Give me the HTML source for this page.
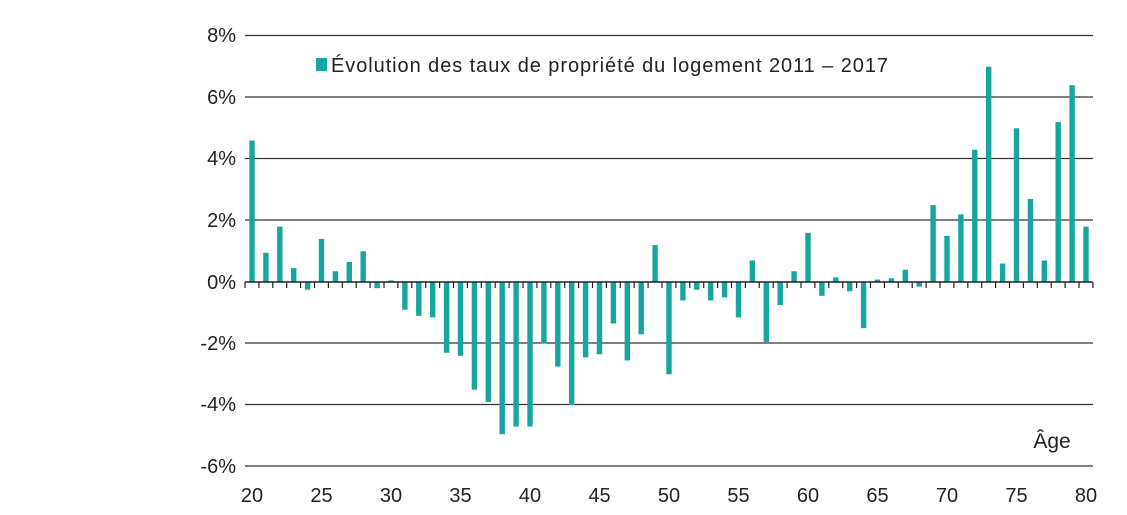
<!DOCTYPE html>
<html><head><meta charset="utf-8"><style>body{margin:0;background:#fff}svg{display:block}text{font-family:"Liberation Sans",sans-serif;fill:#222}</style></head><body>
<svg width="1127" height="515" xmlns="http://www.w3.org/2000/svg">
<g stroke="#333" stroke-width="1.3">
<line x1="245" x2="1093" y1="35.5" y2="35.5"/><line x1="245" x2="1093" y1="97" y2="97"/><line x1="245" x2="1093" y1="158.5" y2="158.5"/><line x1="245" x2="1093" y1="220" y2="220"/><line x1="245" x2="1093" y1="343" y2="343"/><line x1="245" x2="1093" y1="404.5" y2="404.5"/><line x1="245" x2="1093" y1="466" y2="466"/>
</g>
<g font-size="20" text-anchor="end">
<text x="236" y="42">8%</text><text x="236" y="104">6%</text><text x="236" y="165">4%</text><text x="236" y="227">2%</text><text x="236" y="289">0%</text><text x="236" y="350">-2%</text><text x="236" y="411">-4%</text><text x="236" y="473">-6%</text>
</g>
<g font-size="20" text-anchor="middle">
<text x="252" y="502">20</text><text x="321.5" y="502">25</text><text x="391" y="502">30</text><text x="460.5" y="502">35</text><text x="530" y="502">40</text><text x="599.5" y="502">45</text><text x="669" y="502">50</text><text x="738.5" y="502">55</text><text x="808" y="502">60</text><text x="877.5" y="502">65</text><text x="947" y="502">70</text><text x="1016.5" y="502">75</text><text x="1086" y="502">80</text>
</g>
<text x="1052" y="448" font-size="21" text-anchor="middle">Âge</text>
<rect x="316" y="58" width="11" height="13" fill="#17a69e"/>
<text x="331" y="72" font-size="20" textLength="557">Évolution des taux de propriété du logement 2011 – 2017</text>
<g fill="#17a69e">
<rect x="249.3" y="140.55" width="5.4" height="141.45"/>
<rect x="263.2" y="252.79" width="5.4" height="29.21"/>
<rect x="277.1" y="226.65" width="5.4" height="55.35"/>
<rect x="291.0" y="268.16" width="5.4" height="13.84"/>
<rect x="304.9" y="282" width="5.4" height="7.69"/>
<rect x="318.8" y="238.95" width="5.4" height="43.05"/>
<rect x="332.7" y="271.24" width="5.4" height="10.76"/>
<rect x="346.6" y="262.01" width="5.4" height="19.99"/>
<rect x="360.5" y="251.25" width="5.4" height="30.75"/>
<rect x="374.4" y="282" width="5.4" height="6.15"/>
<rect x="388.3" y="280.46" width="5.4" height="1.54"/>
<rect x="402.2" y="282" width="5.4" height="27.68"/>
<rect x="416.1" y="282" width="5.4" height="33.83"/>
<rect x="430.0" y="282" width="5.4" height="35.36"/>
<rect x="443.9" y="282" width="5.4" height="70.73"/>
<rect x="457.8" y="282" width="5.4" height="73.8"/>
<rect x="471.7" y="282" width="5.4" height="107.63"/>
<rect x="485.6" y="282" width="5.4" height="119.93"/>
<rect x="499.5" y="282" width="5.4" height="152.21"/>
<rect x="513.4" y="282" width="5.4" height="144.53"/>
<rect x="527.3" y="282" width="5.4" height="144.53"/>
<rect x="541.2" y="282" width="5.4" height="61.5"/>
<rect x="555.1" y="282" width="5.4" height="84.56"/>
<rect x="569.0" y="282" width="5.4" height="123"/>
<rect x="582.9" y="282" width="5.4" height="75.34"/>
<rect x="596.8" y="282" width="5.4" height="72.26"/>
<rect x="610.7" y="282" width="5.4" height="41.51"/>
<rect x="624.6" y="282" width="5.4" height="78.41"/>
<rect x="638.5" y="282" width="5.4" height="52.28"/>
<rect x="652.4" y="245.1" width="5.4" height="36.9"/>
<rect x="666.3" y="282" width="5.4" height="92.25"/>
<rect x="680.2" y="282" width="5.4" height="18.45"/>
<rect x="694.1" y="282" width="5.4" height="7.69"/>
<rect x="708.0" y="282" width="5.4" height="18.45"/>
<rect x="721.9" y="282" width="5.4" height="15.38"/>
<rect x="735.8" y="282" width="5.4" height="35.36"/>
<rect x="749.7" y="260.47" width="5.4" height="21.53"/>
<rect x="763.6" y="282" width="5.4" height="59.96"/>
<rect x="777.5" y="282" width="5.4" height="23.06"/>
<rect x="791.4" y="271.24" width="5.4" height="10.76"/>
<rect x="805.3" y="232.8" width="5.4" height="49.2"/>
<rect x="819.2" y="282" width="5.4" height="13.84"/>
<rect x="833.1" y="277.39" width="5.4" height="4.61"/>
<rect x="847.0" y="282" width="5.4" height="9.23"/>
<rect x="860.9" y="282" width="5.4" height="46.13"/>
<rect x="874.8" y="279.54" width="5.4" height="2.46"/>
<rect x="888.7" y="278.31" width="5.4" height="3.69"/>
<rect x="902.6" y="269.7" width="5.4" height="12.3"/>
<rect x="916.5" y="282" width="5.4" height="4.61"/>
<rect x="930.4" y="205.12" width="5.4" height="76.88"/>
<rect x="944.3" y="235.87" width="5.4" height="46.13"/>
<rect x="958.2" y="214.35" width="5.4" height="67.65"/>
<rect x="972.1" y="149.77" width="5.4" height="132.23"/>
<rect x="986.0" y="66.75" width="5.4" height="215.25"/>
<rect x="999.9" y="263.55" width="5.4" height="18.45"/>
<rect x="1013.8" y="128.25" width="5.4" height="153.75"/>
<rect x="1027.7" y="198.97" width="5.4" height="83.03"/>
<rect x="1041.6" y="260.47" width="5.4" height="21.53"/>
<rect x="1055.5" y="122.1" width="5.4" height="159.9"/>
<rect x="1069.4" y="85.2" width="5.4" height="196.8"/>
<rect x="1083.3" y="226.65" width="5.4" height="55.35"/>
</g>
<line x1="245" x2="1093" y1="282" y2="282" stroke="#222" stroke-width="1.5"/>
<line x1="244.4" x2="1094.5" y1="285" y2="285" stroke="#222" stroke-width="6" stroke-dasharray="1.2 12.7"/>
</svg>
</body></html>
